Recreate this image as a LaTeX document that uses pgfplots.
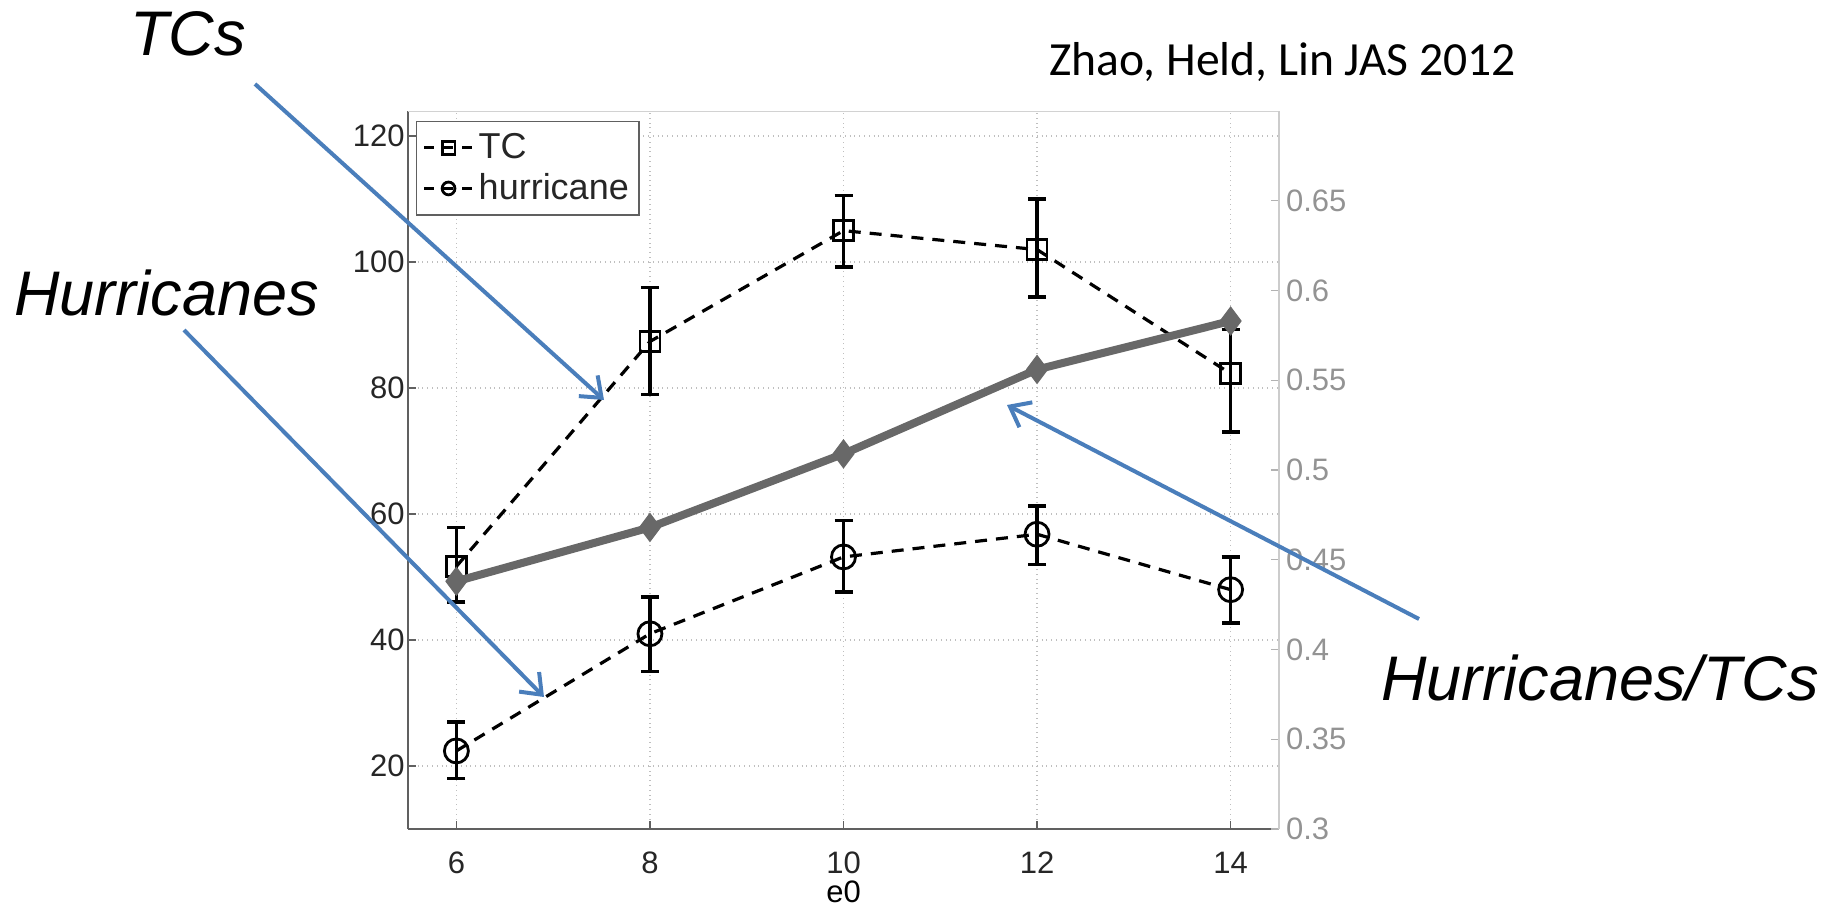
\documentclass[border=0pt]{standalone}
\usepackage{pgfplots}
\pgfplotsset{compat=1.18}
\usepackage{fontspec}
\setmainfont{Liberation Sans}
\newfontfamily\calibri{Carlito}
\usetikzlibrary{arrows.meta}
\definecolor{arrowblue}{HTML}{4A7EBB}
\definecolor{ratiogray}{HTML}{686868}
\begin{document}
\begin{tikzpicture}
\useasboundingbox (0pt,0pt) rectangle (915.5pt,-455pt);
% left axis: TC and hurricane counts
\begin{axis}[
  at={(204pt,-414.5pt)}, anchor=south west,
  scale only axis, width=435.5pt, height=359pt,
  xmin=5.5, xmax=14.5, ymin=10, ymax=124,
  xtick={6,8,10,12,14}, ytick={20,40,60,80,100,120},
  axis x line*=bottom, axis y line*=left,
  grid=major, grid style={dotted, gray!50, line width=0.8pt},
  axis line style={gray!75!black, line width=0.9pt},
  tick style={gray!75!black, line width=0.7pt},
  tick align=inside, major tick length=4pt,
  /pgf/number format/assume math mode=true,
  ticklabel style={font=\fontsize{15.5}{18}\selectfont, text=black!85},
  xticklabel style={anchor=center, yshift=-17pt},
  yticklabel style={inner sep=1.5pt},
  xlabel={e0},
  xlabel style={font=\fontsize{15.5}{18}\selectfont, at={(axis description cs:0.5,0)}, anchor=center, yshift=-31.5pt},
  legend style={at={(0.009,0.986)}, anchor=north west, draw=gray!75!black,
    line width=0.7pt, font=\fontsize{18}{21}\selectfont, inner xsep=3pt, inner ysep=4pt,
    row sep=2pt, text=black!85},
  legend cell align=left,
  legend image code/.code={%
    \draw[dash pattern=on 5pt off 4.5pt, line width=1.6pt] (0pt,0pt) -- (24.5pt,0pt);
    \draw[solid, line width=1pt, mark size=3.2pt] plot coordinates {(12.2pt,0pt)};
  },
  every axis plot/.append style={line width=1.6pt},
  error bars/error bar style={line width=1.8pt, solid, black},
  error bars/error mark options={rotate=90, mark size=4.5pt, line width=1.8pt, solid, black},
]
\draw[gray!35, line width=0.9pt] (rel axis cs:0,1) -- (rel axis cs:1,1);
\addplot[black, dash pattern=on 6pt off 4.5pt, mark=square, mark size=5pt,
  mark options={solid, line width=1.4pt},
  error bars/.cd, y dir=both, y explicit]
  coordinates {
  (6,51.7) += (0,6.2) -= (0,5.7)
  (8,87.4) += (0,8.6) -= (0,8.4)
  (10,105.0) += (0,5.6) -= (0,5.8)
  (12,102.0) += (0,8.0) -= (0,7.5)
  (14,82.3) += (0,7.0) -= (0,9.3)
  };
\addlegendentry{TC}
\addplot[black, dash pattern=on 6pt off 4.5pt, mark=o, mark size=6pt,
  mark options={solid, line width=1.4pt},
  error bars/.cd, y dir=both, y explicit]
  coordinates {
  (6,22.4) += (0,4.6) -= (0,4.4)
  (8,41.0) += (0,5.8) -= (0,6.0)
  (10,53.2) += (0,5.8) -= (0,5.6)
  (12,56.8) += (0,4.5) -= (0,4.8)
  (14,48.0) += (0,5.2) -= (0,5.3)
  };
\addlegendentry{hurricane}
\end{axis}
% right axis: ratio hurricanes / TCs
\begin{axis}[
  at={(204pt,-414.5pt)}, anchor=south west,
  scale only axis, width=435.5pt, height=359pt,
  xmin=5.5, xmax=14.5, ymin=0.3, ymax=0.7,
  axis x line=none, axis y line*=right,
  ytick={0.3,0.35,0.4,0.45,0.5,0.55,0.6,0.65},
  yticklabels={0.3,0.35,0.4,0.45,0.5,0.55,0.6,0.65},
  axis line style={gray!40, line width=0.9pt},
  tick style={gray!60, line width=0.7pt},
  tick align=inside, major tick length=4pt,
  yticklabel style={font=\fontsize{15.5}{18}\selectfont, text=gray!85},
]
\addplot[ratiogray, line width=4pt, mark=diamond*, mark size=7pt,
  mark options={fill=ratiogray, draw=ratiogray, line width=0.5pt}]
  coordinates {(6,0.438) (8,0.468) (10,0.509) (12,0.556) (14,0.583)};
\end{axis}
% annotations
\begin{scope}[x=0.5pt, y=-0.5pt]
\node[anchor=base west, inner sep=0pt, font=\itshape\fontsize{31.5}{36}\selectfont] at (130,55) {TCs};
\node[anchor=base west, inner sep=0pt, font=\itshape\fontsize{31.5}{36}\selectfont] at (14,315) {Hurricanes};
\node[anchor=base west, inner sep=0pt, font=\itshape\fontsize{31.5}{36}\selectfont] at (1381,700) {Hurricanes/TCs};
\node[anchor=base west, inner sep=0pt, font=\calibri\fontsize{23.8}{28}\selectfont] at (1049,75) {Zhao, Held, Lin JAS 2012};
\begin{scope}[arrowblue, line width=2pt, -{Straight Barb[length=9pt, width=14pt, line width=2pt]}]
\draw (255,84) -- (604,400);
\draw (184,330) -- (544,697);
\draw (1419,619) -- (1007,405);
\end{scope}
\end{scope}
\end{tikzpicture}
\end{document}
